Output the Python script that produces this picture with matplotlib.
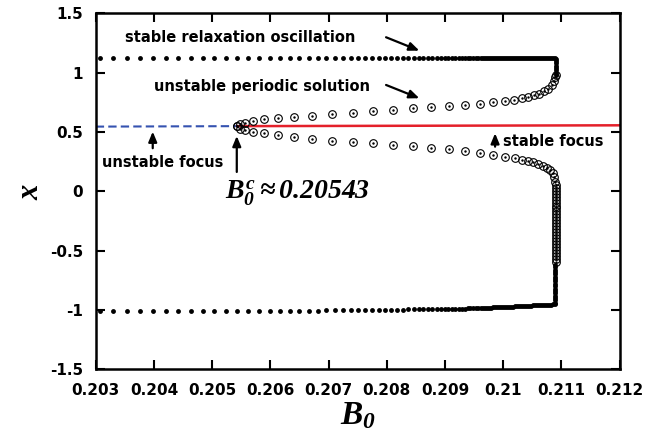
import matplotlib
matplotlib.use('Agg')
import matplotlib.pyplot as plt

# %%
# bifurcation data (B0 vs x)

# stable relaxation oscillation (max / min of x), filled dots
b0_stable = [
    0.203074, 0.203302, 0.203531, 0.203758, 0.203981, 0.204201, 0.204418, 0.204629, 0.204837, 0.205040,
    0.205239, 0.205433, 0.205624, 0.205809, 0.205990, 0.206165, 0.206335, 0.206500, 0.206660, 0.206814,
    0.206964, 0.207108, 0.207247, 0.207381, 0.207510, 0.207634, 0.207753, 0.207866, 0.207976, 0.208081,
    0.208182, 0.208278, 0.208371, 0.208460, 0.208546, 0.208629, 0.208708, 0.208784, 0.208856, 0.208926,
    0.208993, 0.209057, 0.209119, 0.209177, 0.209234, 0.209287, 0.209338, 0.209388, 0.209436, 0.209483,
    0.209527, 0.209570, 0.209612, 0.209651, 0.209689, 0.209725, 0.209761, 0.209795, 0.209828, 0.209861,
    0.209895, 0.209930, 0.209964, 0.209998, 0.210033, 0.210067, 0.210101, 0.210136, 0.210170, 0.210204,
    0.210239, 0.210273, 0.210308, 0.210342, 0.210376, 0.210411, 0.210445, 0.210479, 0.210514, 0.210548,
    0.210582, 0.210617, 0.210651, 0.210686, 0.210720, 0.210754, 0.210789, 0.210823, 0.210857, 0.210892]
x_stable_max = [
    1.122, 1.122, 1.122, 1.122, 1.122, 1.122, 1.122, 1.122, 1.122, 1.122,
    1.122, 1.122, 1.122, 1.122, 1.122, 1.122, 1.122, 1.122, 1.122, 1.122,
    1.122, 1.122, 1.122, 1.122, 1.122, 1.122, 1.122, 1.122, 1.122, 1.122,
    1.122, 1.122, 1.122, 1.122, 1.122, 1.122, 1.122, 1.122, 1.122, 1.122,
    1.122, 1.122, 1.122, 1.122, 1.122, 1.122, 1.122, 1.122, 1.122, 1.122,
    1.122, 1.122, 1.122, 1.122, 1.122, 1.122, 1.122, 1.122, 1.122, 1.122,
    1.122, 1.122, 1.122, 1.122, 1.122, 1.122, 1.122, 1.122, 1.122, 1.122,
    1.122, 1.122, 1.122, 1.122, 1.122, 1.122, 1.122, 1.122, 1.122, 1.122,
    1.122, 1.122, 1.122, 1.122, 1.122, 1.122, 1.122, 1.122, 1.122, 1.122]
x_stable_min = [
    -1.005, -1.005, -1.005, -1.005, -1.005, -1.005, -1.005, -1.005, -1.005, -1.005,
    -1.005, -1.005, -1.005, -1.005, -1.005, -1.005, -1.005, -1.005, -1.005, -1.005,
    -1.003, -1.003, -1.002, -1.002, -1.001, -1.000, -1.000, -0.999, -0.998, -0.998,
    -0.997, -0.997, -0.996, -0.996, -0.995, -0.994, -0.994, -0.993, -0.993, -0.992,
    -0.991, -0.991, -0.990, -0.990, -0.989, -0.988, -0.988, -0.987, -0.986, -0.986,
    -0.985, -0.984, -0.983, -0.983, -0.982, -0.981, -0.981, -0.980, -0.979, -0.979,
    -0.978, -0.977, -0.976, -0.975, -0.974, -0.974, -0.973, -0.972, -0.971, -0.970,
    -0.969, -0.968, -0.968, -0.967, -0.966, -0.965, -0.964, -0.963, -0.962, -0.962,
    -0.961, -0.960, -0.959, -0.958, -0.957, -0.956, -0.956, -0.955, -0.954, -0.953]

# stable branch turning down / up at the fold of cycles
b0_fold_up = [0.210902, 0.210905, 0.210905, 0.210905, 0.210905, 0.210905, 0.210905, 0.210905]
x_fold_up = [1.118, 1.100, 1.080, 1.060, 1.040, 1.020, 1.000, 0.980]
b0_fold_low = [0.210895, 0.210895, 0.210895, 0.210895, 0.210895, 0.210895, 0.210895, 0.210895, 0.210895,
               0.210895, 0.210895, 0.210895, 0.210895, 0.210895, 0.210895, 0.210895, 0.210895]
x_fold_low = [-0.94, -0.92, -0.90, -0.88, -0.86, -0.84, -0.82, -0.80, -0.78,
              -0.76, -0.74, -0.72, -0.70, -0.68, -0.66, -0.64, -0.62]

# unstable periodic solution, open circles
b0_unst_up = [
    0.205430, 0.205479, 0.205565, 0.205698, 0.205892, 0.206137, 0.206412, 0.206717, 0.207065, 0.207416,
    0.207759, 0.208108, 0.208452, 0.208761, 0.209076, 0.209345, 0.209603, 0.209826, 0.210033, 0.210192,
    0.210320, 0.210433, 0.210531, 0.210622, 0.210703, 0.210777, 0.210835, 0.210875, 0.210898, 0.210903]
x_unst_up = [
    0.553, 0.570, 0.578, 0.593, 0.607, 0.615, 0.624, 0.637, 0.649, 0.663,
    0.677, 0.688, 0.700, 0.708, 0.719, 0.727, 0.738, 0.749, 0.761, 0.772,
    0.784, 0.795, 0.808, 0.824, 0.841, 0.866, 0.896, 0.930, 0.963, 0.980]
b0_unst_low = [
    0.205430, 0.205479, 0.205565, 0.205698, 0.205892, 0.206137, 0.206412, 0.206717, 0.207065, 0.207416,
    0.207759, 0.208108, 0.208452, 0.208761, 0.209076, 0.209345, 0.209603, 0.209826, 0.210033, 0.210196,
    0.210320, 0.210433, 0.210519, 0.210605, 0.210680, 0.210749, 0.210806, 0.210852, 0.210880, 0.210897]
x_unst_low = [
    0.548, 0.529, 0.517, 0.503, 0.489, 0.475, 0.458, 0.441, 0.424, 0.413,
    0.403, 0.390, 0.380, 0.368, 0.353, 0.338, 0.325, 0.306, 0.292, 0.278,
    0.264, 0.254, 0.243, 0.230, 0.216, 0.199, 0.180, 0.152, 0.118, 0.081]
b0_unst_drop = [0.210900, 0.210900, 0.210900, 0.210900, 0.210900, 0.210900, 0.210900, 0.210900, 0.210900,
                0.210900, 0.210900, 0.210900, 0.210900, 0.210900, 0.210900, 0.210900, 0.210900, 0.210900,
                0.210900, 0.210900, 0.210900, 0.210900, 0.210900, 0.210900, 0.210900, 0.210900, 0.210900]
x_unst_drop = [0.055, 0.030, 0.005, -0.020, -0.045, -0.070, -0.095, -0.120, -0.145,
               -0.170, -0.195, -0.220, -0.245, -0.270, -0.295, -0.320, -0.345, -0.370,
               -0.395, -0.420, -0.445, -0.470, -0.495, -0.520, -0.545, -0.570, -0.595]

# steady state: unstable focus (dashed) and stable focus (solid)
b0_hopf = 0.20543
b0_ufocus = [0.203, b0_hopf]
x_ufocus = [0.545, 0.549]
b0_sfocus = [b0_hopf, 0.212]
x_sfocus = [0.549, 0.556]

xticks = [0.203, 0.204, 0.205, 0.206, 0.207, 0.208, 0.209, 0.210, 0.211, 0.212]
xtick_labels = ['0.203', '0.204', '0.205', '0.206', '0.207', '0.208', '0.209', '0.21', '0.211', '0.212']
yticks = [-1.5, -1.0, -0.5, 0.0, 0.5, 1.0, 1.5]
ytick_labels = ['-1.5', '-1', '-0.5', '0', '0.5', '1', '1.5']

# %%
plt.rcParams['font.family'] = 'DejaVu Sans'
plt.rcParams['font.weight'] = 'bold'
plt.rcParams['mathtext.fontset'] = 'custom'
plt.rcParams['mathtext.rm'] = 'Liberation Serif:italic:bold'
plt.rcParams['mathtext.it'] = 'Liberation Serif:italic:bold'

fig = plt.figure(figsize=(6.47, 4.40), dpi=100)
ax = fig.add_axes([0.148, 0.1607, 0.8096, 0.8091])

# steady state lines
ax.plot(b0_ufocus, x_ufocus, color='#3552b0', lw=1.5, dashes=[4, 2])
ax.plot(b0_sfocus, x_sfocus, color='#e4202a', lw=1.8)

# unstable cycles: circle with a dot in the middle
for bb, xx in [(b0_unst_up, x_unst_up), (b0_unst_low, x_unst_low), (b0_unst_drop, x_unst_drop)]:
    ax.plot(bb, xx, 'o', ms=5.5, mfc='none', mec='k', mew=0.8)
    ax.plot(bb, xx, '.', ms=1.5, color='k')

# stable cycles
ax.plot(b0_stable, x_stable_max, 'o', ms=3.5, color='k', mew=0)
ax.plot(b0_stable, x_stable_min, 'o', ms=3.5, color='k', mew=0)
ax.plot(b0_fold_up, x_fold_up, 'o', ms=3.5, color='k', mew=0)
ax.plot(b0_fold_low, x_fold_low, 'o', ms=3.5, color='k', mew=0)

# labels and arrows
arrow_kw = dict(arrowstyle='-|>,head_length=0.6,head_width=0.25', color='k', lw=1.6,
                mutation_scale=10, shrinkA=0, shrinkB=0)
ax.text(0.203503, 1.30, 'stable relaxation oscillation', fontsize=10.5, fontweight='bold', va='center')
ax.annotate('', xy=(0.208560, 1.185), xytext=(0.207988, 1.298), arrowprops=arrow_kw)
ax.text(0.204000, 0.887, 'unstable periodic solution', fontsize=10.5, fontweight='bold', va='center')
ax.annotate('', xy=(0.208560, 0.784), xytext=(0.207988, 0.896), arrowprops=arrow_kw)
ax.text(0.203103, 0.241, 'unstable focus', fontsize=10.5, fontweight='bold', va='center')
ax.annotate('', xy=(0.203979, 0.503), xytext=(0.203979, 0.363), arrowprops=arrow_kw)
ax.annotate('', xy=(0.205423, 0.466), xytext=(0.205423, 0.163), arrowprops=arrow_kw)
ax.text(0.210003, 0.418, 'stable focus', fontsize=10.5, fontweight='bold', va='center')
ax.annotate('', xy=(0.209861, 0.489), xytext=(0.209861, 0.376), arrowprops=arrow_kw)
ax.text(0.20522, -0.014, r'$B_{0}^{c}\approx 0.20543$', fontsize=20, va='center')

ax.set_xlim(0.203, 0.212)
ax.set_ylim(-1.5, 1.5)
ax.set_xticks(xticks)
ax.set_xticklabels(xtick_labels)
ax.set_yticks(yticks)
ax.set_yticklabels(ytick_labels)
ax.tick_params(direction='in', length=6.5, width=1.5, top=True, right=True, labelsize=11)
ax.tick_params(axis='x', pad=10)
ax.tick_params(axis='y', pad=9)
for sp in ax.spines.values():
    sp.set_linewidth(1.8)

ax.set_xlabel(r'$B_{0}$', fontsize=24, labelpad=0)
ax.set_ylabel(r'$x$', fontsize=22, labelpad=4)

fig.savefig('out.png', dpi=100)
